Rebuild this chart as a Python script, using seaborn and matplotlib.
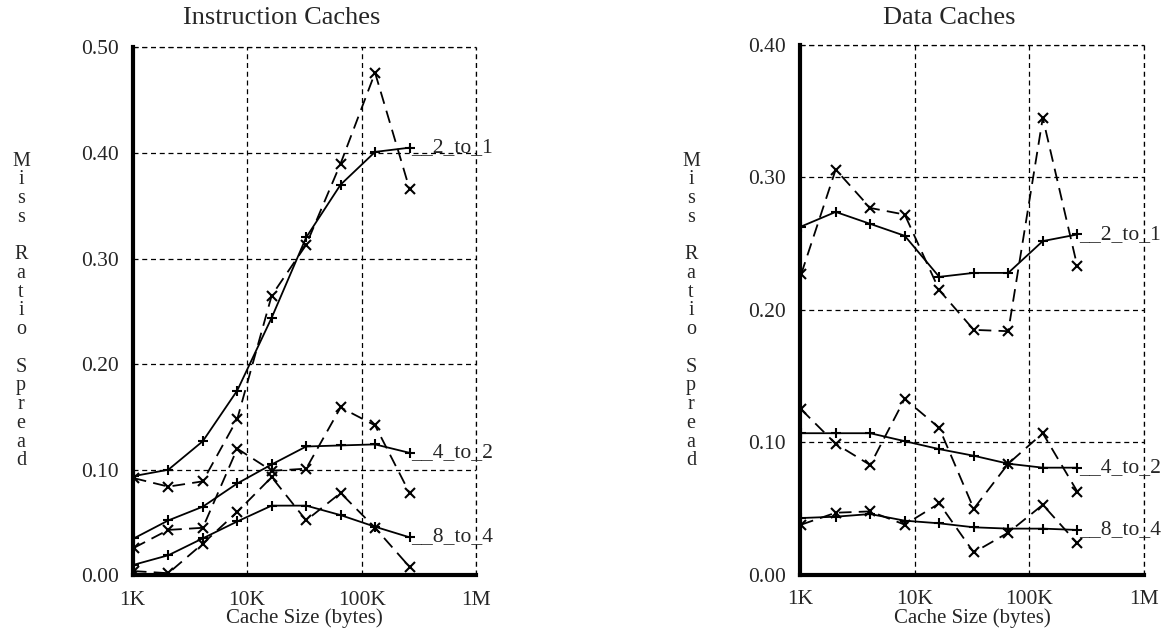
import matplotlib
matplotlib.use("Agg")
import matplotlib.pyplot as plt
import seaborn as sns
import pandas as pd

# cache sizes in bytes (1K .. 256K)
sizes = [1024, 2048, 4096, 8192, 16384, 32768, 65536, 131072, 262144]

# Instruction caches: solid (+) and dashed (x) series
icache_solid = {
    "2_to_1": [0.094, 0.100, 0.127, 0.175, 0.244, 0.320, 0.370, 0.401, 0.405],
    "4_to_2": [0.035, 0.052, 0.065, 0.087, 0.105, 0.122, 0.123, 0.124, 0.116],
    "8_to_4": [0.010, 0.019, 0.035, 0.051, 0.066, 0.066, 0.057, 0.046, 0.036],
}
icache_dashed = {
    "2_to_1": [0.092, 0.084, 0.089, 0.148, 0.265, 0.313, 0.390, 0.476, 0.366],
    "4_to_2": [0.026, 0.043, 0.045, 0.120, 0.099, 0.101, 0.159, 0.142, 0.078],
    "8_to_4": [0.004, 0.002, 0.030, 0.060, 0.093, 0.052, 0.078, 0.045, 0.008],
}

# Data caches
dcache_solid = {
    "2_to_1": [0.263, 0.274, 0.265, 0.256, 0.225, 0.228, 0.228, 0.252, 0.257],
    "4_to_2": [0.107, 0.107, 0.107, 0.101, 0.095, 0.090, 0.084, 0.081, 0.081],
    "8_to_4": [0.043, 0.044, 0.046, 0.041, 0.039, 0.036, 0.035, 0.035, 0.034],
}
dcache_dashed = {
    "2_to_1": [0.227, 0.306, 0.277, 0.272, 0.215, 0.185, 0.184, 0.345, 0.233],
    "4_to_2": [0.125, 0.099, 0.083, 0.133, 0.111, 0.050, 0.084, 0.107, 0.063],
    "8_to_4": [0.038, 0.047, 0.048, 0.038, 0.054, 0.017, 0.032, 0.053, 0.024],
}

titles = ["Instruction Caches", "Data Caches"]
ylims = [0.50, 0.40]

sns.set_style("white")
plt.rcParams["font.family"] = ["Liberation Serif", "DejaVu Serif"]


def to_long(solid, dashed):
    rows = []
    for name, vals in solid.items():
        for s, v in zip(sizes, vals):
            rows.append({"size": s, "spread": v, "kind": "solid", "grp": name + "_s"})
    for name, vals in dashed.items():
        for s, v in zip(sizes, vals):
            rows.append({"size": s, "spread": v, "kind": "dashed", "grp": name + "_d"})
    return pd.DataFrame(rows)


def draw_panel(ax, solid, dashed, ytop):
    df = to_long(solid, dashed)
    sns.lineplot(data=df, x="size", y="spread", style="kind", units="grp",
                 estimator=None, color="black", ax=ax, legend=False,
                 markers={"solid": "+", "dashed": "x"},
                 dashes={"solid": "", "dashed": (7, 4)},
                 linewidth=1.3, markersize=6.5, markeredgewidth=1.5,
                 markeredgecolor="black")
    ax.set_xscale("log")
    ax.set_xlim(1e3, 1e6)
    ax.set_ylim(0, ytop)
    ax.set_xticks([1e3, 1e4, 1e5, 1e6])
    ax.set_xticklabels(["1K", "10K", "100K", "1M"])
    ax.minorticks_off()
    yt = [i / 10 for i in range(int(round(ytop * 10)) + 1)]
    ax.set_yticks(yt)
    ax.set_yticklabels([f"{v:.2f}" for v in yt])
    ax.tick_params(labelsize=15.5, length=4, width=1.5, color="black")
    ax.tick_params(axis="x", pad=7)
    ax.tick_params(axis="y", pad=6)
    ax.grid(True, color="black", linestyle=(0, (4, 3)), linewidth=0.9)
    ax.axvline(1e6, color="black", linestyle=(0, (4, 3)), linewidth=0.9, clip_on=False)
    ax.axhline(ytop, color="black", linestyle=(0, (4, 3)), linewidth=0.9, clip_on=False)
    for sp in ["top", "right"]:
        ax.spines[sp].set_visible(False)
    for sp in ["left", "bottom"]:
        ax.spines[sp].set_linewidth(3)
        ax.spines[sp].set_color("black")
    ax.set_xlabel("Cache Size (bytes)", fontsize=15, labelpad=-1)
    ax.set_ylabel("")
    for name, vals in solid.items():
        ax.annotate("__" + name, (sizes[-1], vals[-1]), xytext=(1, -3),
                    textcoords="offset points", ha="left", va="baseline",
                    fontsize=15.5, annotation_clip=False)


fig = plt.figure(figsize=(11.66, 6.3), dpi=100)
ax1 = fig.add_axes([0.1138, 0.0868, 0.2945, 0.838])
ax2 = fig.add_axes([0.6861, 0.0873, 0.2950, 0.8413])

draw_panel(ax1, icache_solid, icache_dashed, ylims[0])
draw_panel(ax2, dcache_solid, dcache_dashed, ylims[1])

fig.text(282 / 1166, 1 - 18 / 630, titles[0], ha="center", va="center", fontsize=19)
fig.text(949 / 1166, 1 - 18 / 630, titles[1], ha="center", va="center", fontsize=19)

stacked = "M\ni\ns\ns\n\nR\na\nt\ni\no\n\nS\np\nr\ne\na\nd"
for xpix in [21, 691]:
    fig.text(xpix / 1166, 1 - 311 / 630, stacked, ha="center", va="center",
             fontsize=14.5, linespacing=0.98)

fig.savefig("out.png", dpi=100)
